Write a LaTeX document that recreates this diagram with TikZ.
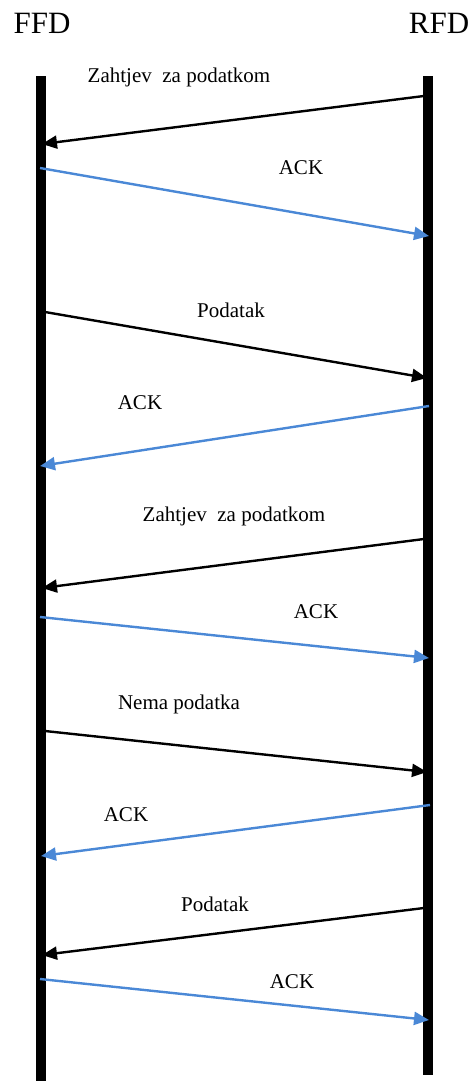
\documentclass[tikz,border=0pt]{standalone}
\usepackage{fontspec}
\setmainfont{Liberation Serif}
\usetikzlibrary{arrows.meta}
\definecolor{ackblue}{RGB}{74,136,214}

\begin{document}
\begin{tikzpicture}[x=1pt,y=-1pt,>={Triangle[length=15pt,width=13pt]},
        bar/.style={line width=10pt},
        msg/.style={line width=2.4pt,->},
        ack/.style={msg,ackblue},
        lbl/.style={font=\fontsize{21}{25}\selectfont,inner sep=0pt},
        head/.style={font=\fontsize{31}{35}\selectfont,inner sep=0pt}]
        \useasboundingbox (0,0) rectangle (473,1081);
        \node[head] (ffd) at (42,23){FFD};
        \node[head] (rfd) at (439,23){RFD};
        \coordinate (ltop) at (41,76);
        \coordinate (lbot) at (41,1081);
        \coordinate (rtop) at (428,76);
        \coordinate (rbot) at (428,1075);
        \draw[bar] (ltop)--(lbot);
        \draw[bar] (rtop)--(rbot);
        % poruke
        \coordinate (r1) at (424,96);   \coordinate (l1) at (42,144);
        \coordinate (l2) at (40,168);   \coordinate (r2) at (429,236);
        \coordinate (l3) at (45,312);   \coordinate (r3) at (427,378);
        \coordinate (r4) at (429,406);  \coordinate (l4) at (40,466);
        \coordinate (r5) at (424,539);  \coordinate (l5) at (42,588);
        \coordinate (l6) at (40,617);   \coordinate (r6) at (429,658);
        \coordinate (l7) at (45,731);   \coordinate (r7) at (427,772);
        \coordinate (r8) at (430,805);  \coordinate (l8) at (41,856);
        \coordinate (r9) at (424,908);  \coordinate (l9) at (42,955);
        \coordinate (l10) at (40,979);  \coordinate (r10) at (429,1020);
        \draw[msg] (r1)--(l1);
        \draw[ack] (l2)--(r2);
        \draw[msg] (l3)--(r3);
        \draw[ack] (r4)--(l4);
        \draw[msg] (r5)--(l5);
        \draw[ack] (l6)--(r6);
        \draw[msg] (l7)--(r7);
        \draw[ack] (r8)--(l8);
        \draw[msg] (r9)--(l9);
        \draw[ack] (l10)--(r10);
        \node[lbl] (t1) at (179,77){Zahtjev\ \ za podatkom};
        \node[lbl] (t2) at (301,168){ACK};
        \node[lbl] (t3) at (231,310){Podatak};
        \node[lbl] (t4) at (140,403){ACK};
        \node[lbl] (t5) at (234,516){Zahtjev\ \ za podatkom};
        \node[lbl] (t6) at (316,612){ACK};
        \node[lbl] (t7) at (179,704){Nema podatka};
        \node[lbl] (t8) at (126,815){ACK};
        \node[lbl] (t9) at (215,904){Podatak};
        \node[lbl] (t10) at (292,982){ACK};
    \end{tikzpicture}
\end{document}
